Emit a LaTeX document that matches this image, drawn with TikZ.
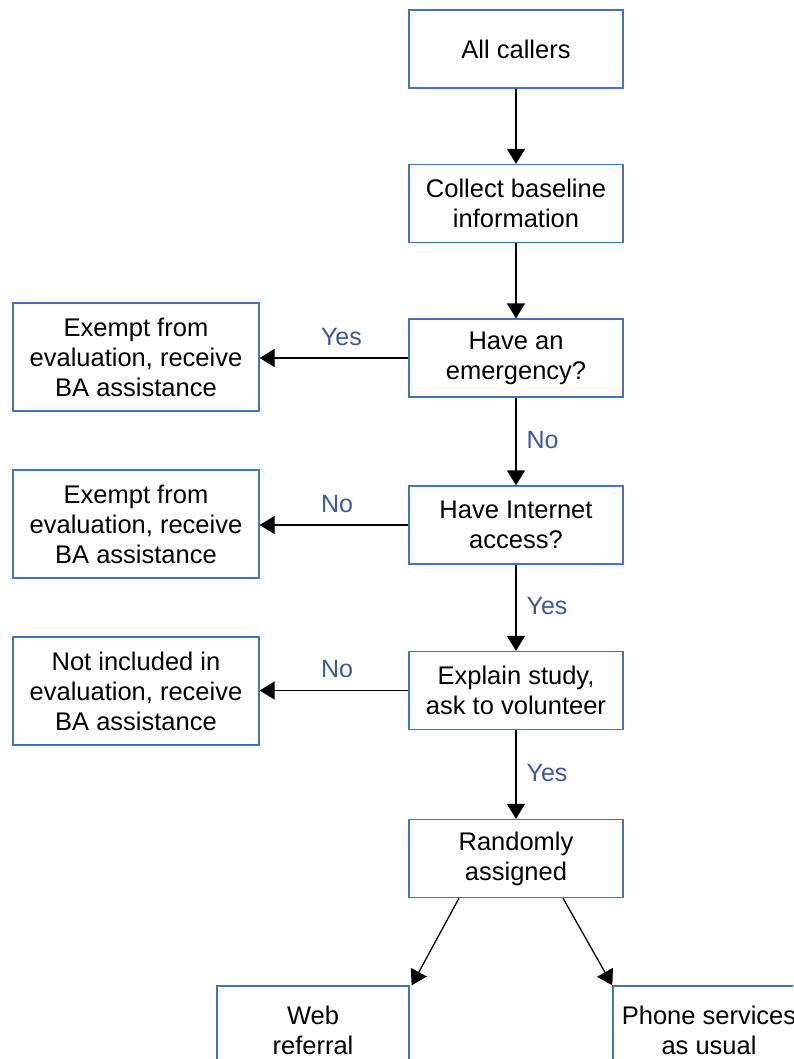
\documentclass[tikz,border=0pt]{standalone}
\usepackage{fontspec}
\setmainfont{Liberation Sans}
\usetikzlibrary{arrows.meta}
\definecolor{boxblue}{RGB}{68,114,196}
\definecolor{lblblue}{RGB}{59,89,160}
\begin{document}
\begin{tikzpicture}[x=1pt,y=-1pt,
  box/.style={draw=boxblue, line width=1.3pt, align=center,
    font=\fontsize{25.5}{30}\selectfont, inner sep=0pt},
  mainbox/.style={box, minimum width=214pt, minimum height=78pt},
  sidebox/.style={box, minimum width=246pt, minimum height=108pt},
  endbox/.style={box, minimum width=192pt, minimum height=89pt},
  arr/.style={-{Triangle[length=15pt,width=18pt]}, line width=1.3pt},
  lbl/.style={text=lblblue, font=\fontsize{25}{29}\selectfont, inner sep=0pt}]
\fill[white] (0,0) rectangle (793,1059);
\clip (0,0) rectangle (793,1059);

% main column
\node[mainbox] (all)      at (516,49)    {All callers};
\node[mainbox] (collect)  at (516,203.5) {Collect baseline\\information};
\node[mainbox] (emerg)    at (516,358)   {Have an\\emergency?};
\node[mainbox] (internet) at (516,525)   {Have Internet\\access?};
\node[mainbox] (explain)  at (516,690.5) {Explain study,\\ask to volunteer};
\node[mainbox] (random)   at (516,858.5) {Randomly\\assigned};

% side outcomes
\node[sidebox] (ex1) at (136,357) {Exempt from\\evaluation, receive\\BA assistance};
\node[sidebox] (ex2) at (136,524) {Exempt from\\evaluation, receive\\BA assistance};
\node[sidebox] (ex3) at (136,691) {Not included in\\evaluation, receive\\BA assistance};

% assignment groups
\node[endbox] (web)   at (313,1030.5) {Web\\referral};
\node[endbox] (phone) at (709,1030.5) {Phone services\\as usual};

% flow
\draw[arr] (all.south) -- (collect.north);
\draw[arr] (collect.south) -- (emerg.north);
\draw[arr] (emerg.south) -- node[lbl, right=10pt, pos=0.48] {No} (internet.north);
\draw[arr] (internet.south) -- node[lbl, right=10pt, pos=0.48] {Yes} (explain.north);
\draw[arr] (explain.south) -- node[lbl, right=10pt, pos=0.48] {Yes} (random.north);

\draw[arr] (emerg.west) -- node[lbl, above=12pt, pos=0.45] {Yes} (emerg.west -| ex1.east);
\draw[arr] (internet.west) -- node[lbl, above=12pt, pos=0.48] {No} (internet.west -| ex2.east);
\draw[arr] (explain.west) -- node[lbl, above=12pt, pos=0.48] {No} (explain.west -| ex3.east);

\draw[arr] ([xshift=-57pt]random.south) -- ([xshift=2pt]web.north east);
\draw[arr] ([xshift=47pt]random.south) -- (phone.north west);
\end{tikzpicture}
\end{document}
